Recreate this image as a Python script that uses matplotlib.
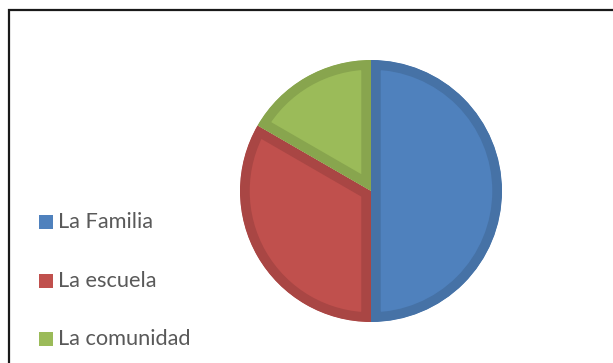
import matplotlib.pyplot as plt
from matplotlib.patches import Rectangle
from matplotlib.colors import to_rgb

plt.rcParams['font.family'] = ['Lato', 'DejaVu Sans']

# Respuestas por ámbito
labels = ['La Familia', 'La escuela', 'La comunidad']
values = [3, 2, 1]
colors = ['#4F81BD', '#C0504D', '#9BBB59']

W, H = 613, 363
fig = plt.figure(figsize=(W / 100, H / 100), dpi=100)

# marco del gráfico (sólo se ven los bordes superior e izquierdo)
fig.patches.append(Rectangle((9 / W, -0.2), 1.2, (H - 10) / H + 0.2,
                             transform=fig.transFigure, fill=False,
                             edgecolor='#1a1a1a', linewidth=1.6))

cx, cy, r = 371, 191, 131
ax = fig.add_axes([(cx - r) / W, (H - cy - r) / H, 2 * r / W, 2 * r / H])
wedges, _ = ax.pie(values, colors=colors, startangle=90, counterclock=False,
                   radius=1)
# borde interior más oscuro en cada sector
for w, c in zip(wedges, colors):
    dark = tuple(v * 0.88 for v in to_rgb(c))
    w.set_edgecolor(dark)
    w.set_linewidth(14)
    w.set_clip_on(True)
    w.set_clip_path(w)
ax.set_xlim(-1, 1)
ax.set_ylim(-1, 1)
ax.set_aspect('equal')
ax.axis('off')

# leyenda
ys = [222, 281, 339]
for lab, c, y in zip(labels, colors, ys):
    fig.patches.append(Rectangle((39 / W, (H - y - 7) / H), 14 / W, 14 / H,
                                 transform=fig.transFigure, facecolor=c,
                                 edgecolor='none'))
    fig.text(58 / W, (H - y) / H, lab, fontsize=15.7, color='#595959',
             va='center', ha='left')

fig.savefig('out.png', dpi=100)
